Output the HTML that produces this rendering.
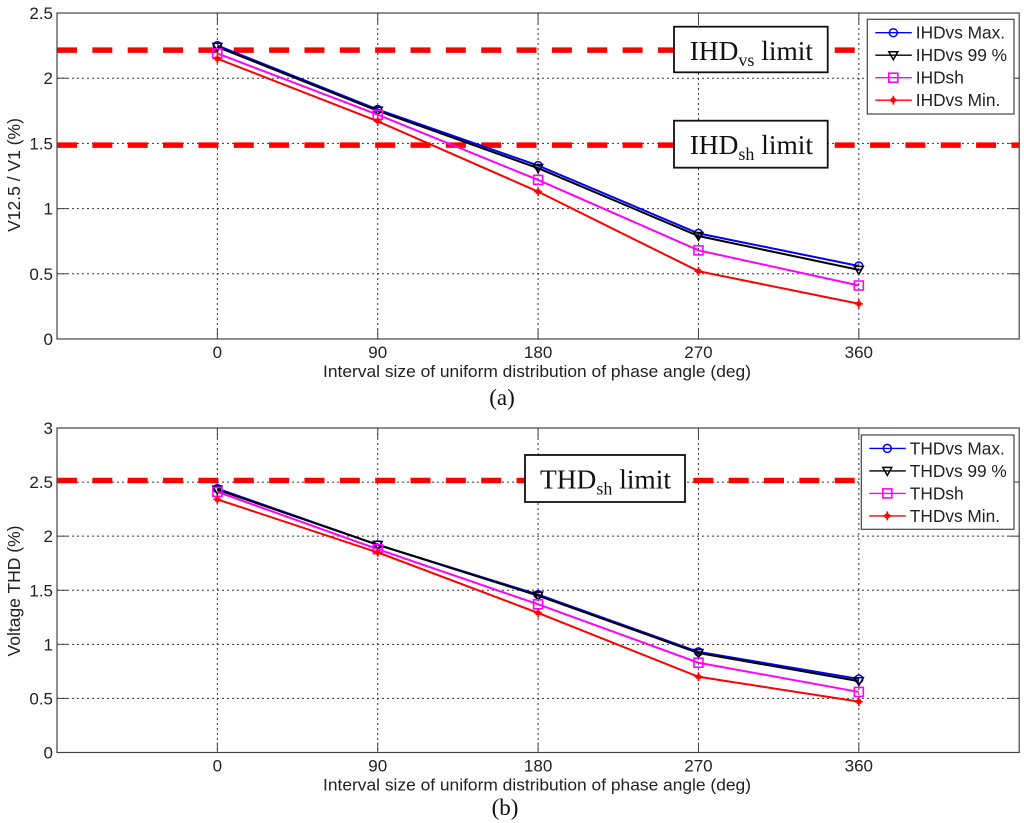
<!DOCTYPE html>
<html>
<head>
<meta charset="utf-8">
<title>Harmonic distortion vs phase angle interval</title>
<style>
html,body{margin:0;padding:0;background:#fff;}
svg{display:block;position:absolute;left:0;top:0;}
text{font-family:"Liberation Sans",Arial,sans-serif;fill:#222;}
.serif{font-family:"Liberation Serif","Times New Roman",serif;fill:#111;}
</style>
</head>
<body>
<svg id="chart" width="1024" height="823" viewBox="0 0 1024 823" xmlns="http://www.w3.org/2000/svg"></svg>
<script>
// ---- data ----
const degrees = [0, 90, 180, 270, 360];
const xTickValues = [0, 90, 180, 270, 360];
const xDomain = [-90, 450];

const ihdYTicks = [0, 0.5, 1, 1.5, 2, 2.5];
const ihdYTickLabels = ['0', '0.5', '1', '1.5', '2', '2.5'];
const ihdYDomain = [0, 2.5];
const ihdVsMax = [2.25, 1.76, 1.33, 0.81, 0.56];
const ihdVs99 = [2.24, 1.75, 1.31, 0.79, 0.53];
const ihdSh = [2.19, 1.72, 1.22, 0.68, 0.41];
const ihdVsMin = [2.15, 1.67, 1.13, 0.52, 0.27];
const ihdLimits = [2.215, 1.487];
const ihdLimitEnds = [360, 450];
const ihdLegendLabels = ['IHDvs Max.', 'IHDvs 99 %', 'IHDsh', 'IHDvs Min.'];

const thdYTicks = [0, 0.5, 1, 1.5, 2, 2.5, 3];
const thdYTickLabels = ['0', '0.5', '1', '1.5', '2', '2.5', '3'];
const thdYDomain = [0, 3];
const thdVsMax = [2.44, 1.92, 1.46, 0.93, 0.68];
const thdVs99 = [2.43, 1.92, 1.45, 0.92, 0.66];
const thdSh = [2.41, 1.88, 1.37, 0.83, 0.56];
const thdVsMin = [2.34, 1.85, 1.29, 0.70, 0.47];
const thdLimits = [2.515];
const thdLimitEnds = [360];
const thdLegendLabels = ['THDvs Max.', 'THDvs 99 %', 'THDsh', 'THDvs Min.'];

const seriesColors = ['#0000ff', '#000000', '#ff00ff', '#ff0000'];
const seriesMarkers = ['circle', 'triangle', 'square', 'star'];
const seriesKeys = ['max', 'p99', 'sh', 'min'];

// ---- drawing ----
const svg = document.getElementById('chart');
const NS = 'http://www.w3.org/2000/svg';
function el(tag, attrs, parent) {
  const e = document.createElementNS(NS, tag);
  for (const k in attrs) e.setAttribute(k, attrs[k]);
  (parent || svg).appendChild(e);
  return e;
}
function drawMarker(kind, x, y, color, g) {
  let m;
  if (kind === 'circle') {
    m = el('circle', {cx: x, cy: y, r: 4, fill: 'none', stroke: color, 'stroke-width': 1.5}, g);
  } else if (kind === 'triangle') {
    m = el('polygon', {points: [x-4.5, y-3.5, x+4.5, y-3.5, x, y+4.5].join(','), fill: 'none', stroke: color, 'stroke-width': 1.5}, g);
  } else if (kind === 'square') {
    m = el('rect', {x: x-4.5, y: y-4.5, width: 9, height: 9, fill: 'none', stroke: color, 'stroke-width': 1.6}, g);
  } else {
    m = el('path', {d: 'M' + (x-4) + ' ' + y + 'H' + (x+4) + 'M' + x + ' ' + (y-4.5) + 'V' + (y+4.5) + 'M' + (x-2) + ' ' + (y-2) + 'L' + (x+2) + ' ' + (y+2) + 'M' + (x+2) + ' ' + (y-2) + 'L' + (x-2) + ' ' + (y+2), stroke: color, 'stroke-width': 1.6, fill: 'none'}, g);
  }
  
  
}
function drawPanel(p) {
  const panel = el('g', {});
  
  
  const xs = v => p.left + (v - xDomain[0]) / (xDomain[1] - xDomain[0]) * (p.right - p.left);
  const ys = v => p.bottom - (v - p.yDomain[0]) / (p.yDomain[1] - p.yDomain[0]) * (p.bottom - p.top);

  // grid and ticks
  p.yTicks.forEach((v, i) => {
    const y = ys(v);
    if (i > 0 && i < p.yTicks.length - 1) {
      const grid = el('line', {x1: p.left, x2: p.right, y1: y, y2: y, stroke: '#333', 'stroke-width': 1, 'stroke-dasharray': '2 3'}, panel);
      
      
      const t1 = el('line', {x1: p.left, x2: p.left + 10, y1: y, y2: y, stroke: '#444', 'stroke-width': 1}, panel);
      
      
      const t2 = el('line', {x1: p.right - 10, x2: p.right, y1: y, y2: y, stroke: '#444', 'stroke-width': 1}, panel);
      
      
    }
    const lab = el('text', {x: 53, y: y + 6, 'text-anchor': 'end', 'font-size': 17}, panel);
    lab.textContent = p.yTickLabels[i];
    
    
  });
  xTickValues.forEach(v => {
    const x = xs(v);
    const grid = el('line', {x1: x, x2: x, y1: p.top, y2: p.bottom, stroke: '#333', 'stroke-width': 1, 'stroke-dasharray': '2 3'}, panel);
    
    
    const t1 = el('line', {x1: x, x2: x, y1: p.bottom - 10, y2: p.bottom, stroke: '#444', 'stroke-width': 1}, panel);
    
    
    const t2 = el('line', {x1: x, x2: x, y1: p.top, y2: p.top + 10, stroke: '#444', 'stroke-width': 1}, panel);
    
    
    const lab = el('text', {x: x, y: p.bottom + 19, 'text-anchor': 'middle', 'font-size': 17}, panel);
    lab.textContent = String(v);
    
    
  });

  // limit lines
  p.limits.forEach((v, i) => {
    const lim = el('line', {x1: p.left, x2: xs(p.limitEnds[i]), y1: ys(v), y2: ys(v), stroke: '#ff0000', 'stroke-width': 5.5, 'stroke-dasharray': '20 15.35'}, panel);
    
    
  });

  // series
  p.series.forEach((vals, s) => {
    const g = el('g', {}, panel);
    
    
    const pts = vals.map((v, i) => xs(degrees[i]) + ',' + ys(v)).join(' ');
    const line = el('polyline', {points: pts, fill: 'none', stroke: seriesColors[s], 'stroke-width': 2}, g);
    
    
    vals.forEach((v, i) => drawMarker(seriesMarkers[s], xs(degrees[i]), ys(v), seriesColors[s], g));
  });

  // axes box
  const box = el('rect', {x: p.left, y: p.top, width: p.right - p.left, height: p.bottom - p.top, fill: 'none', stroke: '#444', 'stroke-width': 1.2}, panel);
  
  

  // axis titles
  const xt = el('text', {x: 537, y: p.bottom + 38, 'text-anchor': 'middle', 'font-size': 17, textLength: 428, lengthAdjust: 'spacingAndGlyphs'}, panel);
  xt.textContent = 'Interval size of uniform distribution of phase angle (deg)';
  
  
  const yt = el('text', {x: 0, y: 0, 'text-anchor': 'middle', 'font-size': 17.5, transform: 'translate(20,' + p.yTitleY + ') rotate(-90)'}, panel);
  yt.textContent = p.yTitle;
  
  

  // legend
  const L = p.legend;
  const lg = el('g', {}, panel);
  
  
  el('rect', {x: L.x, y: L.y, width: L.w, height: L.h, fill: '#fff', stroke: '#444', 'stroke-width': 1.2}, lg);
  p.legendLabels.forEach((txt, i) => {
    const y = L.y + 13.4 + i * 22.5;
    const entry = el('g', {}, lg);
    
    
    el('line', {x1: L.x + 8, x2: L.x + 44.5, y1: y, y2: y, stroke: seriesColors[i], 'stroke-width': 1.4}, entry);
    drawMarker(seriesMarkers[i], L.x + 26, y, seriesColors[i], entry);
    const t = el('text', {x: L.x + 48.5, y: y + 6, 'font-size': 17.3}, entry);
    t.textContent = txt;
  });

  // annotations
  p.notes.forEach(n => {
    const g = el('g', {}, panel);
    
    
    el('rect', {x: n.x, y: n.y, width: n.w, height: n.h, fill: '#fff', stroke: '#111', 'stroke-width': 1.8}, g);
    const t = el('text', {x: n.x + n.w / 2 + 0.5, y: n.y + 33.3, 'text-anchor': 'middle', 'font-size': 27.4, 'class': 'serif'}, g);
    const a = el('tspan', {}, t); a.textContent = n.main;
    const b = el('tspan', {dy: 6, 'font-size': 18}, t); b.textContent = n.sub;
    const c = el('tspan', {dy: -6}, t); c.textContent = ' limit';
  });

  // caption
  const cap = el('text', {x: p.capX, y: p.capY, 'text-anchor': 'middle', 'font-size': 23, 'class': 'serif'}, panel);
  cap.textContent = p.caption;
  
  
}

drawPanel({
  name: 'ihd-panel', left: 57, right: 1019.2, top: 13, bottom: 339,
  yDomain: ihdYDomain, yTicks: ihdYTicks, yTickLabels: ihdYTickLabels,
  series: [ihdVsMax, ihdVs99, ihdSh, ihdVsMin], limits: ihdLimits, limitEnds: ihdLimitEnds,
  legendLabels: ihdLegendLabels, legend: {x: 867.3, y: 19.3, w: 146.7, h: 94.7},
  yTitle: 'V12.5 / V1 (%)', yTitleY: 175,
  notes: [
    {name: 'ihd-vs-limit-label', x: 674, y: 26.7, w: 153.7, h: 45.6, main: 'IHD', sub: 'vs'},
    {name: 'ihd-sh-limit-label', x: 674, y: 120.7, w: 153.7, h: 47, main: 'IHD', sub: 'sh'}
  ],
  caption: '(a)', capX: 502, capY: 405
});
drawPanel({
  name: 'thd-panel', left: 57, right: 1019.2, top: 428, bottom: 752.5,
  yDomain: thdYDomain, yTicks: thdYTicks, yTickLabels: thdYTickLabels,
  series: [thdVsMax, thdVs99, thdSh, thdVsMin], limits: thdLimits, limitEnds: thdLimitEnds,
  legendLabels: thdLegendLabels, legend: {x: 861.3, y: 435, w: 152.7, h: 94.3},
  yTitle: 'Voltage THD (%)', yTitleY: 591,
  notes: [
    {name: 'thd-sh-limit-label', x: 525, y: 455, w: 160, h: 47, main: 'THD', sub: 'sh'}
  ],
  caption: '(b)', capX: 505, capY: 815
});
</script>
</body>
</html>
